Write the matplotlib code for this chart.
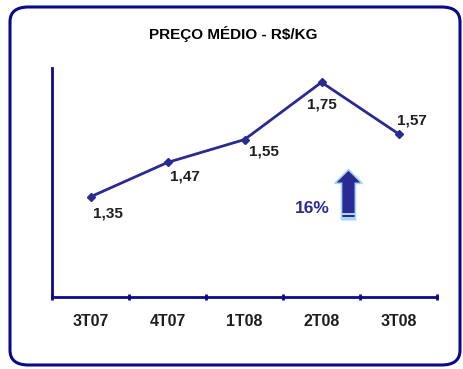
import matplotlib.pyplot as plt
import matplotlib.patches as mpatches
import numpy as np

quarters = ["3T07", "4T07", "1T08", "2T08", "3T08"]
prices = [1.35, 1.47, 1.55, 1.75, 1.57]
price_labels = ["1,35", "1,47", "1,55", "1,75", "1,57"]
label_offsets = [(0.23, -0.058), (0.23, -0.05), (0.25, -0.04), (0.0, -0.077), (0.17, 0.045)]
growth_text = "16%"

navy = "#2a2a90"
axis_blue = "#0a0a8a"
font = "Liberation Sans"

fig = plt.figure(figsize=(4.64, 3.69), dpi=100)
fig.patch.set_facecolor("white")

# rounded frame around the whole chart, kept behind the axes
frame = mpatches.FancyBboxPatch((10 / 464, 4 / 369), 450 / 464, 358 / 369,
                                boxstyle="round,pad=0,rounding_size=0.04",
                                transform=fig.transFigure, facecolor="white",
                                edgecolor=axis_blue, linewidth=2.2, zorder=-5)
fig.patches.append(frame)

fig.text(233 / 464, 1 - 34 / 369, "PREÇO MÉDIO - R$/KG", ha="center", va="center",
         fontsize=11, fontweight="bold", family=font)

ax = fig.add_axes([52 / 464, 1 - 297 / 369, 385 / 464, 229 / 369])
ax.set_facecolor("none")
x = np.arange(len(quarters))
ax.plot(x, prices, color=navy, linewidth=2, marker="D", markersize=4)

for xi, p, lab, (dx, dy) in zip(x, prices, price_labels, label_offsets):
    ax.text(xi + dx, p + dy, lab, ha="center", va="center", fontsize=11,
            fontweight="bold", family=font, color="#1e1e1e")

ax.set_xlim(-0.5, len(quarters) - 0.5)
ax.set_ylim(1.0, 1.8)
ax.set_yticks([])
ax.set_xticks(np.arange(-0.5, len(quarters)), minor=False)
ax.set_xticklabels([])
ax.set_xticks(x, minor=True)
ax.set_xticklabels(quarters, minor=True, fontsize=11.5, fontweight="bold",
                   family=font, color="#1e1e1e")
ax.tick_params(axis="x", which="major", length=4, width=2, color=axis_blue, direction="inout")
ax.tick_params(axis="x", which="minor", length=0, pad=12)
for side in ["top", "right"]:
    ax.spines[side].set_visible(False)
for side in ["left", "bottom"]:
    ax.spines[side].set_color(axis_blue)
    ax.spines[side].set_linewidth(2)

# growth arrow: dark body with a thin light outline and two stripes at the base
arrow_x = 3.35
arrow = mpatches.FancyArrow(arrow_x, 1.27, 0, 0.175, width=0.18, head_width=0.36,
                            head_length=0.048, length_includes_head=True,
                            facecolor="#2a2a95", edgecolor="#a8d4f5", linewidth=1.2)
ax.add_patch(arrow)
for yy in [1.273, 1.287]:
    ax.add_patch(mpatches.Rectangle((arrow_x - 0.09, yy), 0.18, 0.006,
                                    facecolor="#a8d4f5", edgecolor="none"))
ax.text(2.88, 1.31, growth_text, ha="center", va="center", fontsize=12.5,
        fontweight="bold", family=font, color="#2a2a95")

fig.savefig("out.png", dpi=100)
